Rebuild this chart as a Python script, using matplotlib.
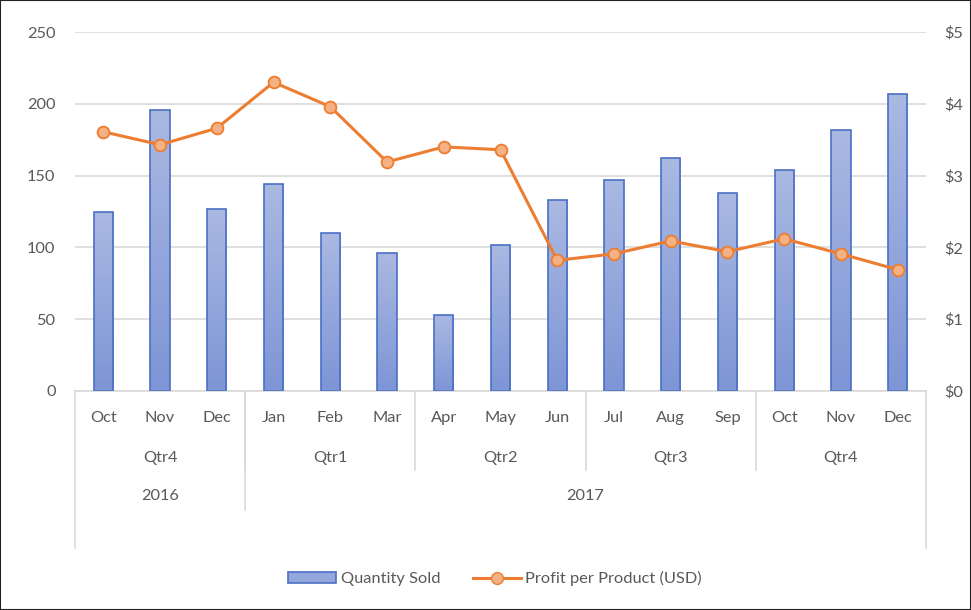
import matplotlib
matplotlib.use("Agg")
import matplotlib.pyplot as plt
import numpy as np
from matplotlib.lines import Line2D
from matplotlib.patches import Patch, Rectangle

plt.rcParams["font.family"] = ["Lato", "DejaVu Sans"]

MONTHS = ["Oct", "Nov", "Dec", "Jan", "Feb", "Mar", "Apr", "May", "Jun",
          "Jul", "Aug", "Sep", "Oct", "Nov", "Dec"]
QUARTERS = ["Qtr4", "Qtr1", "Qtr2", "Qtr3", "Qtr4"]
QUARTER_SIZES = [3, 3, 3, 3, 3]
YEARS = ["2016", "2017"]
YEAR_SIZES = [3, 12]
QUANTITY = [125, 196, 127, 144, 110, 96, 53, 102, 133, 147, 162, 138, 154, 182, 207]
PROFIT = [3.61, 3.43, 3.66, 4.30, 3.96, 3.19, 3.40, 3.36, 1.82, 1.91, 2.09,
          1.94, 2.12, 1.91, 1.69]
LEFT_TICKS = [0, 50, 100, 150, 200, 250]
RIGHT_TICKS = [0, 1, 2, 3, 4, 5]

TXT = "#595959"
GRID = "#d9d9d9"
BAR_EDGE = "#4a6fc4"
ORANGE = "#ed7d31"
FS = 11.8

fig = plt.figure(figsize=(9.71, 6.10), dpi=100)
ax = fig.add_axes([75 / 971, 1 - 391 / 610, (926 - 75) / 971, 359 / 610])
x = np.arange(len(MONTHS))

bars = ax.bar(x, QUANTITY, width=0.34, color="none", edgecolor=BAR_EDGE,
              linewidth=1.2, zorder=3)
grad = np.linspace(0, 1, 100).reshape(-1, 1)
cmap = matplotlib.colors.LinearSegmentedColormap.from_list(
    "g", ["#7e95d6", "#aab9e2"])
for b in bars:
    x0, w, h = b.get_x(), b.get_width(), b.get_height()
    im = ax.imshow(grad, cmap=cmap, origin="lower", aspect="auto",
                   extent=[x0, x0 + w, 0, h], zorder=2)
    im.set_clip_path(b)

ax.set_xlim(-0.5, len(MONTHS) - 0.5)
ax.set_ylim(0, 250)
ax.set_yticks(LEFT_TICKS)
ax.set_yticklabels([str(v) for v in LEFT_TICKS])
ax.tick_params(axis="y", length=0, pad=14, labelcolor=TXT, labelsize=FS)
ax.set_xticks([])
ax.grid(axis="y", color=GRID, linewidth=1.2, zorder=0)
for s in ["top", "left", "right"]:
    ax.spines[s].set_visible(False)
ax.spines["bottom"].set_color(GRID)
ax.spines["bottom"].set_linewidth(1.2)

ax2 = ax.twinx()
ax2.plot(x, PROFIT, color=ORANGE, linewidth=2.2, marker="o", markersize=8.5,
         markerfacecolor="#f4b183", markeredgecolor=ORANGE, markeredgewidth=1.3,
         zorder=4)
ax2.set_ylim(0, 5)
ax2.set_yticks(RIGHT_TICKS)
ax2.set_yticklabels([f"${v}" for v in RIGHT_TICKS])
ax2.tick_params(axis="y", length=0, pad=13, labelcolor=TXT, labelsize=FS)
for s in ax2.spines.values():
    s.set_visible(False)
ax2.set_xlim(-0.5, len(MONTHS) - 0.5)

# multi-level category axis
tr = ax.get_xaxis_transform()
ah = 359.0
def yf(py):
    return -(py - 391) / ah

for i, m in enumerate(MONTHS):
    ax.text(i, yf(418), m, transform=tr, ha="center", va="center",
            color=TXT, fontsize=FS, clip_on=False)

start = 0
for q, n in zip(QUARTERS, QUARTER_SIZES):
    ax.text(start + (n - 1) / 2, yf(458), q, transform=tr, ha="center",
            va="center", color=TXT, fontsize=FS, clip_on=False)
    start += n
    if start < len(MONTHS):
        ax.plot([start - 0.5] * 2, [0, yf(470)], transform=tr, color=GRID,
                linewidth=1.2, clip_on=False)

start = 0
for yr, n in zip(YEARS, YEAR_SIZES):
    ax.text(start + (n - 1) / 2, yf(496), yr, transform=tr, ha="center",
            va="center", color=TXT, fontsize=FS, clip_on=False)
    start += n
    if start < len(MONTHS):
        ax.plot([start - 0.5] * 2, [0, yf(510)], transform=tr, color=GRID,
                linewidth=1.2, clip_on=False)

for edge in [-0.5, len(MONTHS) - 0.5]:
    ax.plot([edge] * 2, [0, yf(548)], transform=tr, color=GRID,
            linewidth=1.2, clip_on=False)

handles = [
    Patch(facecolor="#95a8dd", edgecolor=BAR_EDGE, linewidth=1.2),
    Line2D([], [], color=ORANGE, linewidth=2.2, marker="o", markersize=8.5,
           markerfacecolor="#f4b183", markeredgecolor=ORANGE),
]
fig.legend(handles, ["Quantity Sold", "Profit per Product (USD)"],
           loc="center", bbox_to_anchor=(0.51, 0.051), ncol=2, frameon=False,
           fontsize=FS, labelcolor=TXT, handlelength=2.9, handletextpad=0.3,
           columnspacing=2.0)

fig.patches.append(Rectangle((0, 0), 1, 1, transform=fig.transFigure,
                             fill=False, edgecolor="#222222", linewidth=1.5))

fig.savefig("out.png", dpi=100)
